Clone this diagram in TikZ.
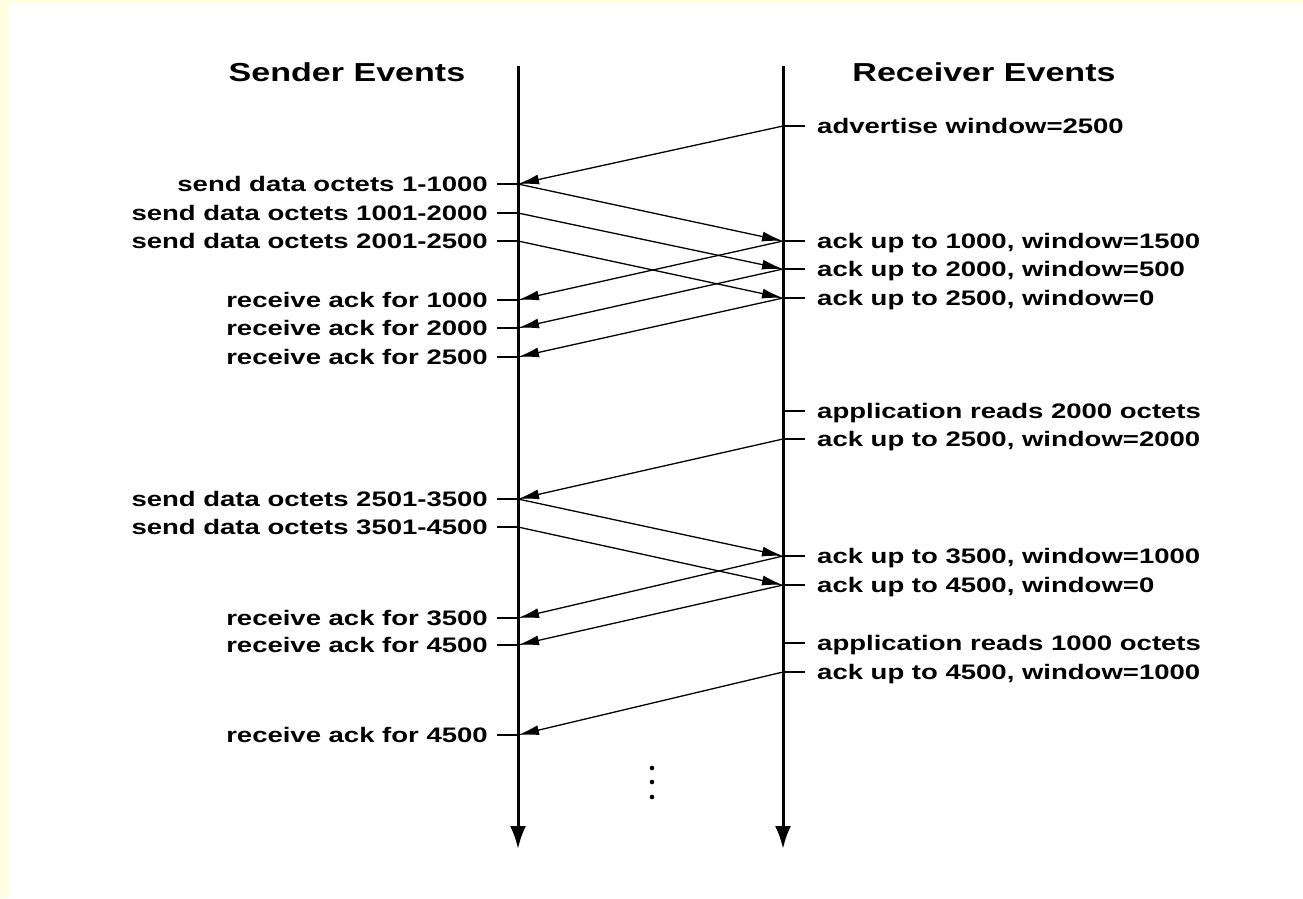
\documentclass[tikz,border=0pt]{standalone}
\usepackage{fontspec}
\setmainfont[FakeStretch=1.31]{Liberation Sans}
\usetikzlibrary{arrows.meta}
\definecolor{pale}{RGB}{255,255,224}
\begin{document}
\begin{tikzpicture}[x=1pt,y=-1pt,
  axisline/.style={line width=3pt,-{Latex[length=23pt,width=16pt]}},
  tick/.style={line width=1.6pt},
  msg/.style={line width=1.3pt,-{Latex[length=21pt,width=10pt]}},
  lbl/.style={font=\bfseries\fontsize{21}{21}\selectfont,inner sep=0pt},
  head/.style={font=\bfseries\fontsize{26}{26}\selectfont,inner sep=0pt},
  dotmark/.style={fill=black}]
\fill[pale] (0,0) rectangle (1303,898);
\fill[white] (8,4) rectangle (1303,898);
\useasboundingbox (0,0) rectangle (1303,898);

% axes
\coordinate (stop) at (518,66);
\coordinate (sbot) at (518,849);
\coordinate (rtop) at (783,66);
\coordinate (rbot) at (783,849);
\draw[axisline] (stop) -- (sbot);
\draw[axisline] (rtop) -- (rbot);

\node[head,anchor=base] (hs) at (347,81) {Sender Events};
\node[head,anchor=base] (hr) at (984,81) {Receiver Events};

% sender events
\foreach \n/\y/\t in {
  s1/184/send data octets 1-1000,
  s2/213/send data octets 1001-2000,
  s3/241/send data octets 2001-2500,
  s4/300/receive ack for 1000,
  s5/328/receive ack for 2000,
  s6/357/receive ack for 2500,
  s7/499/send data octets 2501-3500,
  s8/527/send data octets 3501-4500,
  s9/618/receive ack for 3500,
  s10/645/receive ack for 4500,
  s11/735/receive ack for 4500}{
  \coordinate (\n) at (518,\y);
  \draw[tick] (\n) -- ++(-21,0);
  \node[lbl,anchor=base east] (l\n) at ([xshift=-30pt,yshift=-7.5pt]\n) {\t};
}

% receiver events
\foreach \n/\y/\t in {
  r1/126/advertise window=2500,
  r2/241/{ack up to 1000, window=1500},
  r3/269/{ack up to 2000, window=500},
  r4/298/{ack up to 2500, window=0},
  r5/411/application reads 2000 octets,
  r6/439/{ack up to 2500, window=2000},
  r7/556/{ack up to 3500, window=1000},
  r8/585/{ack up to 4500, window=0},
  r9/643/application reads 1000 octets,
  r10/672/{ack up to 4500, window=1000}}{
  \coordinate (\n) at (783,\y);
  \draw[tick] (\n) -- ++(22,0);
  \node[lbl,anchor=base west] (l\n) at ([xshift=34pt,yshift=-7.5pt]\n) {\t};
}

% messages
\draw[msg] (r1) -- (s1);
\draw[msg] (s1) -- (r2);
\draw[msg] (s2) -- (r3);
\draw[msg] (s3) -- (r4);
\draw[msg] (r2) -- (s4);
\draw[msg] (r3) -- (s5);
\draw[msg] (r4) -- (s6);
\draw[msg] (r6) -- (s7);
\draw[msg] (s7) -- (r7);
\draw[msg] (s8) -- (r8);
\draw[msg] (r7) -- (s9);
\draw[msg] (r8) -- (s10);
\draw[msg] (r10) -- (s11);

% continuation dots
\fill[dotmark] (652,768) circle (2.3);
\fill[dotmark] (652,782) circle (2.3);
\fill[dotmark] (652,797) circle (2.3);
\end{tikzpicture}
\end{document}
